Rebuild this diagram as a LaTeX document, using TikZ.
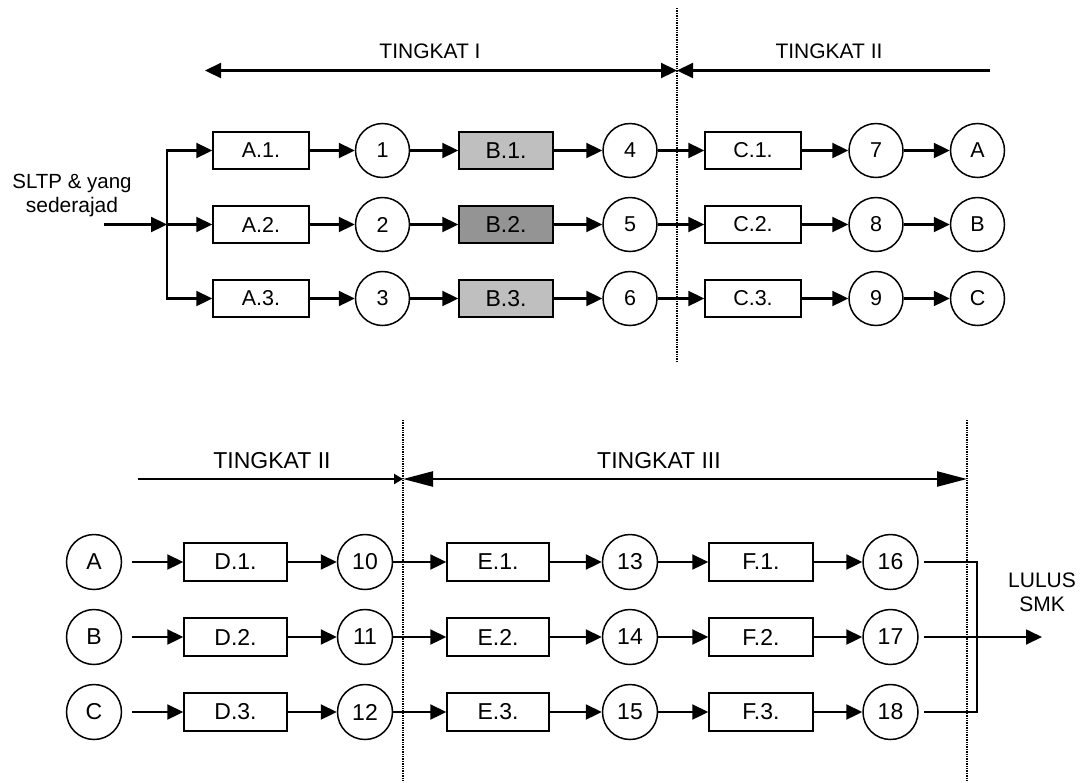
\documentclass[tikz,border=0pt]{standalone}
\usepackage{fontspec}
\setmainfont{Liberation Sans}
\usetikzlibrary{arrows.meta}

\begin{document}
\begin{tikzpicture}[
        x=1pt, y=-1pt,
        box/.style={draw, line width=1.5pt, inner sep=0pt,
                    minimum width=96pt, minimum height=37pt,
                    font=\fontsize{21.5}{24}\selectfont},
        bigbox/.style={box, minimum width=103pt, minimum height=38pt,
                    font=\fontsize{23}{26}\selectfont},
        stn/.style={draw, circle, line width=1.5pt, inner sep=0pt,
                    minimum size=54pt, font=\fontsize{21.5}{24}\selectfont},
        bigstn/.style={stn, minimum size=55pt, font=\fontsize{23}{26}\selectfont},
        lbl/.style={font=\fontsize{21}{24}\selectfont},
        biglbl/.style={font=\fontsize{23}{26}\selectfont},
        arr/.style={-{Triangle[length=16pt, width=15pt]}, line width=2.3pt},
        dim/.style={line width=2.3pt},
        border/.style={line width=2.4pt, dash pattern=on 1.4pt off 1pt}
    ]
        \useasboundingbox (0,0) rectangle (1089,782);

        % tingkat I and II, upper part
        \node[lbl] (lt1) at (430,51) {TINGKAT I};
        \node[lbl] (lt2) at (829,51) {TINGKAT II};
        \coordinate (t1l) at (205,70.5);
        \coordinate (tmid) at (677,70.5);
        \coordinate (t2r) at (990,70.5);
        \coordinate (vtop) at (677,8);
        \coordinate (vbot) at (677,363);
        \draw[border] (vtop) -- (vbot);
        \draw[dim, {Triangle[length=16pt, width=15pt]}-{Triangle[length=16pt, width=15pt]}] (t1l) -- (tmid);
        \draw[dim, {Triangle[length=16pt, width=15pt]}-] (tmid) -- (t2r);

        \node[lbl, align=center] (src) at (72,196) {\fontsize{20.5}{21.5}\selectfont SLTP \& yang\\sederajad};
        \coordinate (in) at (104,224.5);
        \coordinate (split) at (167,224.5);

        \node[box] (a1) at (261,150.5) {A.1.};
        \node[box] (a2) at (261,224.5) {A.2.};
        \node[box] (a3) at (261,298.5) {A.3.};
        \node[stn] (n1) at (382.5,150.5) {1};
        \node[stn] (n2) at (382.5,224.5) {2};
        \node[stn] (n3) at (382.5,298.5) {3};
        \node[box, fill=black!25, minimum width=94pt, font=\fontsize{23}{26}\selectfont] (b1) at (506,150.5) {B.1.};
        \node[box, fill=black!42, minimum width=94pt, font=\fontsize{23}{26}\selectfont] (b2) at (506,224.5) {B.2.};
        \node[box, fill=black!25, minimum width=94pt, font=\fontsize{23}{26}\selectfont] (b3) at (506,298.5) {B.3.};
        \node[stn] (n4) at (630,150.5) {4};
        \node[stn] (n5) at (630,224.5) {5};
        \node[stn] (n6) at (630,298.5) {6};
        \node[box] (c1) at (753,150.5) {C.1.};
        \node[box] (c2) at (753,224.5) {C.2.};
        \node[box] (c3) at (753,298.5) {C.3.};
        \node[stn] (n7) at (876,150.5) {7};
        \node[stn] (n8) at (876,224.5) {8};
        \node[stn] (n9) at (876,298.5) {9};
        \node[stn] (oa) at (977.5,150.5) {A};
        \node[stn] (ob) at (977.5,224.5) {B};
        \node[stn] (oc) at (977.5,298.5) {C};

        \draw[arr] (in) -- (split);
        \draw[arr] (split) |- (a1);
        \draw[arr] (split) -- (a2);
        \draw[arr] (split) |- (a3);
        \draw[arr] (a1) -- (n1);  \draw[arr] (n1) -- (b1);  \draw[arr] (b1) -- (n4);
        \draw[arr] (a2) -- (n2);  \draw[arr] (n2) -- (b2);  \draw[arr] (b2) -- (n5);
        \draw[arr] (a3) -- (n3);  \draw[arr] (n3) -- (b3);  \draw[arr] (b3) -- (n6);
        \draw[arr] (n4) -- (c1);  \draw[arr] (c1) -- (n7);  \draw[arr] (n7) -- (oa);
        \draw[arr] (n5) -- (c2);  \draw[arr] (c2) -- (n8);  \draw[arr] (n8) -- (ob);
        \draw[arr] (n6) -- (c3);  \draw[arr] (c3) -- (n9);  \draw[arr] (n9) -- (oc);

        % tingkat II and III, lower part
        \node[biglbl] (lt2b) at (272,461) {TINGKAT II};
        \node[biglbl] (lt3) at (659,461) {TINGKAT III};
        \coordinate (b2l) at (138,479);
        \coordinate (bmid) at (403,479);
        \coordinate (b3r) at (967,479);
        \draw[border] (403,420) -- (403,782);
        \draw[border] (967,420) -- (967,782);
        \draw[dim, -{Triangle[length=9pt, width=10pt]}] (b2l) -- (bmid);
        \draw[dim, {Triangle[length=30pt, width=15pt]}-{Triangle[length=30pt, width=15pt]}] (bmid) -- (b3r);

        \node[bigstn] (ia) at (94,562) {A};
        \node[bigstn] (ib) at (94,637) {B};
        \node[bigstn] (ic) at (94,712) {C};
        \node[bigbox] (d1) at (235.5,562) {D.1.};
        \node[bigbox] (d2) at (235.5,637) {D.2.};
        \node[bigbox] (d3) at (235.5,712) {D.3.};
        \node[bigstn] (n10) at (365,562) {10};
        \node[bigstn] (n11) at (365,637) {11};
        \node[bigstn] (n12) at (365,712) {12};
        \node[bigbox, minimum width=102pt] (e1) at (498,562) {E.1.};
        \node[bigbox, minimum width=102pt] (e2) at (498,637) {E.2.};
        \node[bigbox, minimum width=102pt] (e3) at (498,712) {E.3.};
        \node[bigstn] (n13) at (630,562) {13};
        \node[bigstn] (n14) at (630,637) {14};
        \node[bigstn] (n15) at (630,712) {15};
        \node[bigbox, minimum width=104pt] (f1) at (761,562) {F.1.};
        \node[bigbox, minimum width=104pt] (f2) at (761,637) {F.2.};
        \node[bigbox, minimum width=104pt] (f3) at (761,712) {F.3.};
        \node[bigstn] (n16) at (890.5,562) {16};
        \node[bigstn] (n17) at (890.5,637) {17};
        \node[bigstn] (n18) at (890.5,712) {18};

        \draw[arr, shorten <=10pt] (ia) -- (d1);  \draw[arr] (d1) -- (n10);  \draw[arr] (n10) -- (e1);
        \draw[arr, shorten <=10pt] (ib) -- (d2);  \draw[arr] (d2) -- (n11);  \draw[arr] (n11) -- (e2);
        \draw[arr, shorten <=10pt] (ic) -- (d3);  \draw[arr] (d3) -- (n12);  \draw[arr] (n12) -- (e3);
        \draw[arr] (e1) -- (n13);  \draw[arr] (n13) -- (f1);  \draw[arr] (f1) -- (n16);
        \draw[arr] (e2) -- (n14);  \draw[arr] (n14) -- (f2);  \draw[arr] (f2) -- (n17);
        \draw[arr] (e3) -- (n15);  \draw[arr] (n15) -- (f3);  \draw[arr] (f3) -- (n18);

        \coordinate (join) at (977,637);
        \coordinate (out) at (1042,637);
        \draw[line width=1.3pt, shorten <=5pt] (n16) -| (join);
        \draw[line width=1.3pt, shorten <=5pt] (n18) -| (join);
        \draw[line width=1.7pt, shorten <=5pt, -{Triangle[length=16pt, width=15pt]}] (n17) -- (out);
        \node[lbl, align=center] (lulus) at (1042,592) {\fontsize{21}{25}\selectfont LULUS\\SMK};
    \end{tikzpicture}
\end{document}
